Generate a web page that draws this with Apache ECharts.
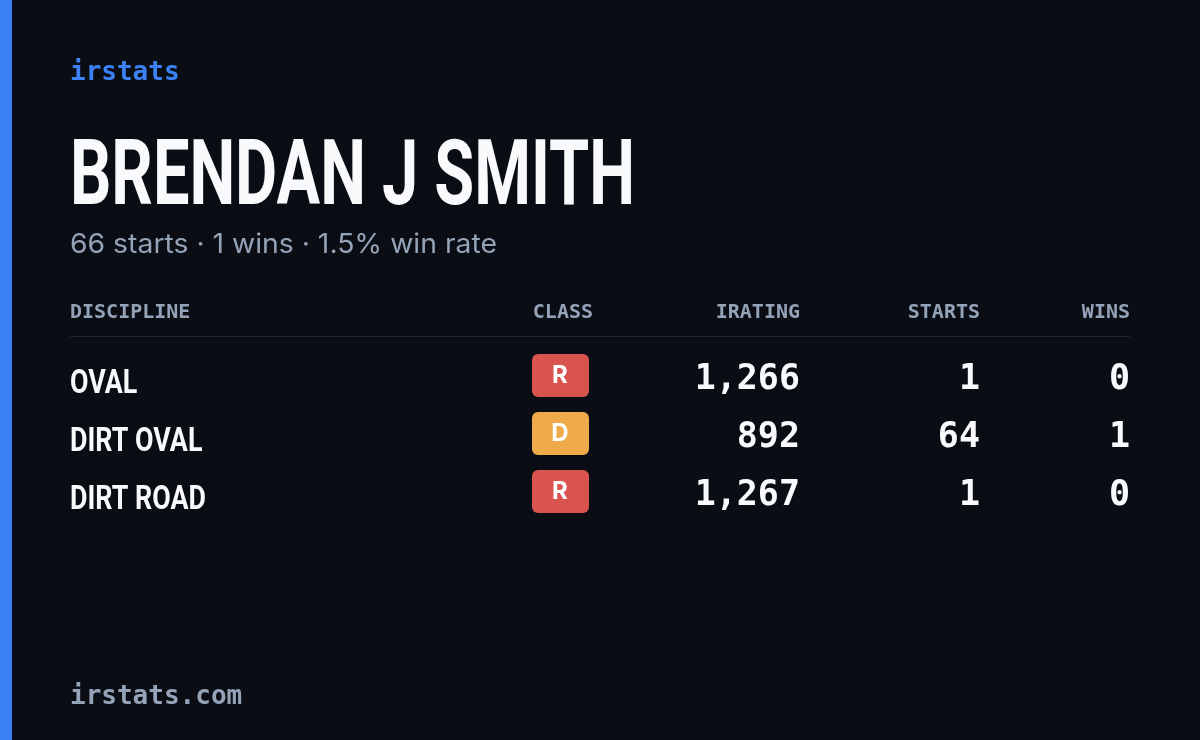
<!DOCTYPE html>
<html><head><meta charset="utf-8">
<script src="https://cdn.jsdelivr.net/npm/echarts@6/dist/echarts.min.js"></script>
<style>html,body{margin:0;padding:0;background:#0a0d14}#c{width:1200px;height:740px}</style>
</head><body><div id="c"></div>
<script>
const brand = 'irstats';
const driver = 'BRENDAN J SMITH';
const summary = '66 starts · 1 wins · 1.5% win rate';
const footer = 'irstats.com';
const headers = ['DISCIPLINE','CLASS','IRATING','STARTS','WINS'];
const disciplines = ['OVAL','DIRT OVAL','DIRT ROAD'];
const classes = ['R','D','R'];
const iratings = [1266, 892, 1267];
const starts = [1, 64, 1];
const wins = [0, 1, 0];

const classColor = {R:'#d9534f', D:'#efab4a'};
const mono = 'DejaVu Sans Mono';
const ctx = document.createElement('canvas').getContext('2d');
function w(text, font){ ctx.font = font; return ctx.measureText(text).width; }
const titleFont = 'bold 90px Roboto';
const rowFont = 'bold 33px Roboto';
const titleScale = 565 / w(driver, titleFont);
const rowScale = 136 / w('DIRT ROAD', rowFont);
const subFont = '27px Inter';
const subScale = 427 / w(summary, subFont);
const g = [];
g.push({type:'rect', shape:{x:0,y:0,width:12,height:740}, style:{fill:'#3b82f6'}});
g.push({type:'text', x:70, y:73, style:{text:brand, font:'bold 26px '+mono, fill:'#3b82f6', textVerticalAlign:'middle'}});
g.push({type:'text', x:70, y:181, scaleX:titleScale, style:{text:driver, font:titleFont, fill:'#f8fafc', textVerticalAlign:'middle'}});
g.push({type:'text', x:70, y:245, scaleX:subScale, style:{text:summary, font:subFont, fill:'#94a3b8', textVerticalAlign:'middle'}});
const hx = [70, 593, 800, 980, 1130];
const ha = ['left','right','right','right','right'];
headers.forEach((h,i)=>g.push({type:'text', x:hx[i], y:313, style:{text:h, font:'bold 20px '+mono, fill:'#94a3b8', align:ha[i], textVerticalAlign:'middle'}}));
g.push({type:'rect', shape:{x:70,y:336,width:1060,height:1}, style:{fill:'#1e2430'}});
const fmt = v => v.toLocaleString('en-US');
disciplines.forEach((d,i)=>{
  const y = 378 + i*58;
  g.push({type:'text', x:70, y:y+7, scaleX:rowScale, style:{text:d, font:rowFont, fill:'#f8fafc', textVerticalAlign:'middle'}});
  g.push({type:'rect', shape:{x:532,y:y-24,width:57,height:43,r:6}, style:{fill:classColor[classes[i]]}});
  g.push({type:'text', x:560, y:y-2, style:{text:classes[i], font:'bold 24px Inter', fill:'#ffffff', align:'center', textVerticalAlign:'middle'}});
  [[fmt(iratings[i]),800],[String(starts[i]),980],[String(wins[i]),1130]].forEach(([t,x])=>
    g.push({type:'text', x:x, y:y+2, style:{text:t, font:'bold 35px '+mono, fill:'#f8fafc', align:'right', textVerticalAlign:'middle'}}));
});
g.push({type:'text', x:70, y:697, style:{text:footer, font:'bold 26px '+mono, fill:'#94a3b8', textVerticalAlign:'middle'}});
const chart = echarts.init(document.getElementById('c'));
chart.setOption({backgroundColor:'#0a0d14', graphic:g});
</script></body></html>
